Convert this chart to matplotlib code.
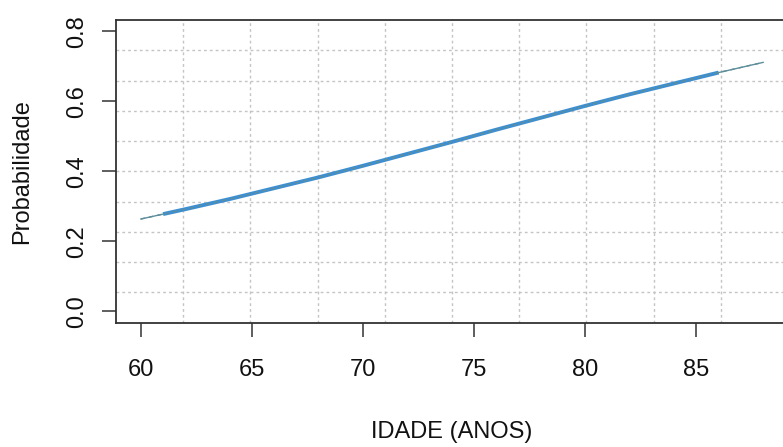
import numpy as np
import matplotlib
matplotlib.use('Agg')
import matplotlib.pyplot as plt

# fitted probability by age
idade = [60, 61, 62, 64, 66, 68, 70, 72, 74, 76, 78, 80, 82, 84, 86, 88]
prob = [0.264, 0.278, 0.292, 0.321, 0.352, 0.383, 0.416, 0.450, 0.484,
        0.519, 0.553, 0.587, 0.620, 0.651, 0.682, 0.711]
xticks = [60, 65, 70, 75, 80, 85]
yticks = [0.0, 0.2, 0.4, 0.6, 0.8]
ytick_labels = ['0.0', '0.2', '0.4', '0.6', '0.8']

plt.rcParams['font.family'] = ['Liberation Sans', 'DejaVu Sans']

W, H = 783, 447
fig = plt.figure(figsize=(W / 100, H / 100), dpi=100)
# right edge of the box lies just past the image, as in the reference
ax = fig.add_axes([116 / W, (H - 322.7) / H, (788 - 116) / W, (322.7 - 20) / H])

x0, x1 = 58.88, 89.12
y0, y1 = -0.032, 0.832
ax.set_xlim(x0, x1)
ax.set_ylim(y0, y1)

# R-style grid: 10 equal cells over the plotting region
for gx in np.linspace(x0, x1, 11)[1:-1]:
    ax.axvline(gx, color='#c4c4c4', lw=1, ls=(0, (2, 2.2)), zorder=1)
for gy in np.linspace(y0, y1, 11)[1:-1]:
    ax.axhline(gy, color='#c4c4c4', lw=1, ls=(0, (2, 2.2)), zorder=1)

x = np.array(idade)
y = np.array(prob)
mid = (x >= 61) & (x <= 86)
ax.plot(x[mid], y[mid], color='#3d8fd1', lw=2.8, solid_capstyle='butt', zorder=3)
ax.plot(x, y, color='#5d8e9a', lw=1.0, ls=(0, (3, 3)), zorder=4)
ax.plot(x[x >= 86], y[x >= 86], color='#5d8e9a', lw=1.0, zorder=4)
ax.plot(x[x <= 61], y[x <= 61], color='#5d8e9a', lw=1.0, zorder=4)

ax.set_xticks(xticks)
ax.set_yticks(yticks)
ax.set_yticklabels(ytick_labels, rotation=90, va='center')
ax.tick_params(axis='both', direction='out', length=10, width=1.1,
               color='#333333', labelsize=17, labelcolor='#111111')
ax.tick_params(axis='x', pad=16)
ax.tick_params(axis='y', pad=10)

for s in ax.spines.values():
    s.set_color('#333333')
    s.set_linewidth(1.3)

ax.set_xlabel('IDADE (ANOS)', fontsize=17, color='#111111', va='center')
ax.set_ylabel('Probabilidade', fontsize=17, color='#111111', va='center')
ax.xaxis.set_label_coords(0.5, (322.7 - 432) / 302.7)
ax.yaxis.set_label_coords((22 - 116) / 672, 0.5)

fig.savefig('out.png', dpi=100)
